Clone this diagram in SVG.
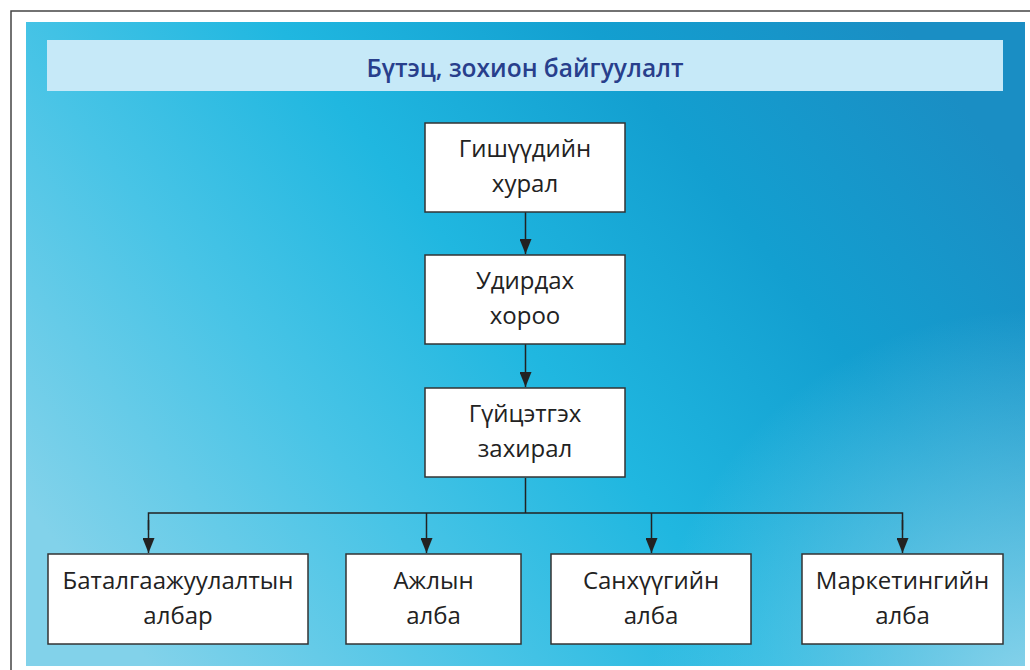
<svg xmlns="http://www.w3.org/2000/svg" width="1030" height="670" viewBox="0 0 1030 670">
<defs>
<linearGradient id="bg" x1="0" y1="0.75" x2="1" y2="0.25">
<stop offset="0" stop-color="#82d2ea"/>
<stop offset="0.28" stop-color="#48c4e6"/>
<stop offset="0.5" stop-color="#20b7e0"/>
<stop offset="0.75" stop-color="#139fd0"/>
<stop offset="1" stop-color="#1a8ec4"/>
</linearGradient>
<radialGradient id="glow" cx="1030" cy="690" r="380" gradientUnits="userSpaceOnUse">
<stop offset="0" stop-color="#8fd6ec" stop-opacity="0.95"/>
<stop offset="1" stop-color="#8fd6ec" stop-opacity="0"/>
</radialGradient>
<marker id="arr" viewBox="0 0 15 12" refX="15" refY="6" markerWidth="15" markerHeight="12" markerUnits="userSpaceOnUse" orient="auto">
<path d="M0,0 L15,6 L0,12 z" fill="#222"/>
</marker>
<style>
.box{fill:#fff;stroke:#333;stroke-width:1.5}
.t{font-family:"Open Sans","Noto Sans",sans-serif;font-size:24px;fill:#222;text-anchor:middle}
.c{fill:none;stroke:#222;stroke-width:1.5}
</style>
</defs>
<rect x="0" y="0" width="1030" height="670" fill="#fff"/>
<path d="M11,670 V11 H1030" fill="none" stroke="#444" stroke-width="1.5"/>
<rect x="26" y="22" width="999" height="644" fill="url(#bg)"/>
<rect x="26" y="22" width="999" height="644" fill="url(#glow)"/>
<rect x="47" y="40" width="956" height="51" fill="#c6e9f8"/>
<text x="525" y="77" font-family="'Open Sans','Noto Sans',sans-serif" font-size="24.5" font-weight="600" fill="#283f8c" text-anchor="middle">Бүтэц, зохион байгуулалт</text>
<g id="connectors">
<path class="c" d="M525.5,212 V254" marker-end="url(#arr)"/>
<path class="c" d="M525.5,344 V387" marker-end="url(#arr)"/>
<path class="c" d="M525.5,478 V513"/>
<path class="c" d="M148.5,530 V513 H902.5 V530"/>
<path class="c" d="M148.5,520 V553" marker-end="url(#arr)"/>
<path class="c" d="M426.5,513 V553" marker-end="url(#arr)"/>
<path class="c" d="M651.5,513 V553" marker-end="url(#arr)"/>
<path class="c" d="M902.5,520 V553" marker-end="url(#arr)"/>
</g>
<g id="n1"><rect class="box" x="425" y="123" width="200" height="89"/><text class="t" x="525" y="157">Гишүүдийн</text><text class="t" x="525" y="192">хурал</text></g>
<g id="n2"><rect class="box" x="425" y="255" width="200" height="89"/><text class="t" x="525" y="289">Удирдах</text><text class="t" x="525" y="324">хороо</text></g>
<g id="n3"><rect class="box" x="425" y="388" width="200" height="89"/><text class="t" x="525" y="422">Гүйцэтгэх</text><text class="t" x="525" y="457">захирал</text></g>
<g id="n4"><rect class="box" x="48" y="554" width="260" height="90"/><text class="t" x="178" y="589">Баталгаажуулалтын</text><text class="t" x="178" y="624">албар</text></g>
<g id="n5"><rect class="box" x="346" y="554" width="175" height="90"/><text class="t" x="433.5" y="589">Ажлын</text><text class="t" x="433.5" y="624">алба</text></g>
<g id="n6"><rect class="box" x="551" y="554" width="200" height="90"/><text class="t" x="651" y="589">Санхүүгийн</text><text class="t" x="651" y="624">алба</text></g>
<g id="n7"><rect class="box" x="802" y="554" width="201" height="90"/><text class="t" x="902.5" y="589">Маркетингийн</text><text class="t" x="902.5" y="624">алба</text></g>
</svg>
